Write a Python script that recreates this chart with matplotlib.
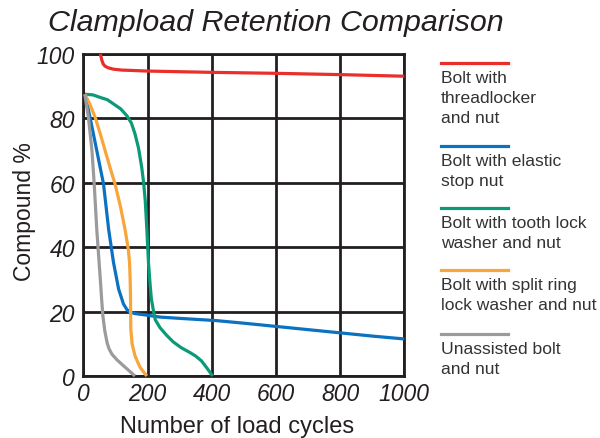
import matplotlib
matplotlib.use("Agg")
import matplotlib.pyplot as plt
from matplotlib.lines import Line2D

plt.rcParams['font.family'] = ['Liberation Sans', 'DejaVu Sans']

title = "Clampload Retention Comparison"
xlabel = "Number of load cycles"
ylabel = "Compound %"
xticks = [0, 200, 400, 600, 800, 1000]
yticks = [0, 20, 40, 60, 80, 100]

labels = ["Bolt with\nthreadlocker\nand nut",
          "Bolt with elastic\nstop nut",
          "Bolt with tooth lock\nwasher and nut",
          "Bolt with split ring\nlock washer and nut",
          "Unassisted bolt\nand nut"]
colors = ["#ea2e2a", "#0a72c0", "#0a9a78", "#f8a53a", "#9b9b9d"]

red_x = [53, 55, 58, 62, 68, 78, 93, 120, 150, 200, 300, 400, 500, 600, 700, 800, 900, 1000]
red_y = [100, 99.2, 98.0, 96.9, 96.2, 95.7, 95.3, 95.0, 94.9, 94.7, 94.5, 94.3, 94.15, 94.0, 93.8, 93.6, 93.35, 93.1]

blue_x = [5, 21, 42, 63, 79, 94, 110, 125, 136, 146, 160, 198, 239, 300, 415, 500, 600, 700, 800, 900, 1000]
blue_y = [87.5, 80.3, 70, 59.6, 45.5, 35.3, 27, 22.4, 20.6, 19.8, 19.4, 18.9, 18.3, 17.9, 17.2, 16.4, 15.4, 14.4, 13.4, 12.4, 11.5]

green_x = [5, 30, 53, 75, 94, 116, 136, 150, 161, 172, 182, 188, 193, 198, 203, 208, 212, 218, 224, 239, 260, 280, 305, 332, 350, 368, 385, 403]
green_y = [87.5, 87.3, 86.5, 85.8, 84.5, 83.0, 80.8, 78.5, 75.2, 70.8, 64.8, 60.0, 54.4, 45.5, 35.3, 28.5, 24.0, 20.5, 17.5, 15.0, 12.6, 10.6, 8.8, 7.3, 6.2, 4.7, 2.5, 0]

orange_x = [5, 20, 37, 52, 68, 84, 99, 116, 130, 140, 144, 146, 147, 148, 152, 161, 170, 177, 188, 198]
orange_y = [87.5, 84.5, 80.3, 75.5, 70, 64.5, 59.6, 52.5, 45.5, 39.5, 35.3, 30.0, 25.0, 14.6, 10.0, 6.3, 4.2, 2.7, 1.2, 0]

gray_x = [5, 10, 16, 27, 34, 42, 48, 53, 57, 61, 67, 74, 80, 89, 105, 125, 143, 161]
gray_y = [87.5, 84, 80.3, 70, 59.6, 45.5, 37, 30, 24, 18.7, 14, 10.4, 8.5, 6.8, 5.0, 3.2, 1.6, 0]

series_x = [red_x, blue_x, green_x, orange_x, gray_x]
series_y = [red_y, blue_y, green_y, orange_y, gray_y]

W, H = 600, 439
fig = plt.figure(figsize=(6.0, 4.39), dpi=100)
ax = fig.add_axes([83.3 / W, 1 - 377 / H, (404.3 - 83.3) / W, (377 - 55) / H])

dark = "#231f20"
for xs, ys, c in zip(series_x, series_y, colors):
    ax.plot(xs, ys, color=c, lw=2.3, solid_capstyle='butt', clip_on=False, zorder=3)

ax.set_xlim(0, 1000)
ax.set_ylim(0, 100)
ax.set_xticks(xticks)
ax.set_yticks(yticks)
ax.grid(True, color=dark, lw=2.0, zorder=1)
ax.set_axisbelow(True)
for s in ax.spines.values():
    s.set_color(dark)
    s.set_linewidth(2.0)
ax.tick_params(length=0, labelsize=16.5, colors=dark)
ax.tick_params(axis='y', pad=6)
ax.tick_params(axis='x', pad=4)
for lab in ax.get_xticklabels() + ax.get_yticklabels():
    lab.set_fontstyle('italic')

fig.text(48 / W, 1 - 23 / H, title, fontsize=21.9, fontstyle='italic', color=dark,
         ha='left', va='center')
fig.text(237.5 / W, 1 - 427 / H, xlabel, fontsize=17, color=dark, ha='center', va='center')
fig.text(25 / W, 1 - 212 / H, ylabel, fontsize=16.5, color=dark, ha='center', va='center',
         rotation=90)

line_y = [64, 147, 209, 271, 335]
for ly, lab, c in zip(line_y, labels, colors):
    fig.add_artist(Line2D([441 / W, 508 / W], [1 - ly / H, 1 - ly / H],
                          transform=fig.transFigure, color=c, lw=2.3))
    fig.text(441 / W, 1 - (ly + 7) / H, lab, fontsize=12.6, color="#333333",
             ha='left', va='top', linespacing=1.4)

fig.savefig("out.png", dpi=100)
